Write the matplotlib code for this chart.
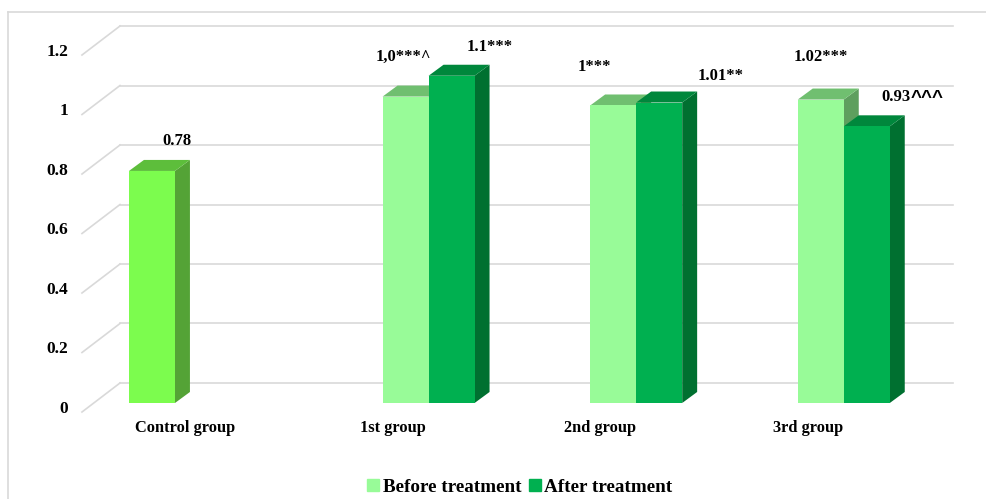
import matplotlib
matplotlib.use("Agg")
import matplotlib.pyplot as plt
from matplotlib.patches import Patch
from matplotlib.lines import Line2D
import numpy as np

# data
categories = ["Control group", "1st group", "2nd group", "3rd group"]
control = [0.78, None, None, None]
before = [None, 1.03, 1.0, 1.02]
after = [None, 1.1, 1.01, 0.93]
yticks = [0, 0.2, 0.4, 0.6, 0.8, 1.0, 1.2]
ytick_labels = ["0", "0.2", "0.4", "0.6", "0.8", "1", "1.2"]
control_labels = ["0.78", None, None, None]
before_labels = [None, "1,0***^", "1***", "1.02***"]
after_labels = [None, "1.1***", "1.01**", "0.93"]

# colours (front, top, side)
COL_CONTROL = ("#7CFC4E", "#5DBE3B", "#54A336")
COL_BEFORE = ("#98FB98", "#70BF70", "#5E9F5E")
COL_AFTER = ("#00B050", "#00873C", "#007030")
GRID = "#D9D9D9"
SERIF = "Liberation Serif"

W = 0.2216           # bar width (category units)
DX, DY = 0.072, 0.037  # bar depth offset
WALL_DX_BACK, WALL_DY_BACK = -0.3757, 0.0672
WALL_DX_FRONT, WALL_DY_FRONT = -0.5588, -0.0303
RIGHT_END = 3.637

fig = plt.figure(figsize=(9.87, 4.99), dpi=100)
ax = fig.add_axes([60 / 987, 69 / 499, 910 / 987, 415 / 499])
ax.set_xlim(-0.6647, 3.7187)
ax.set_ylim(-0.0908, 1.3042)
ax.axis("off")

# back wall gridlines + left wall slants
for t in yticks:
    ax.plot([WALL_DX_FRONT, WALL_DX_BACK], [t + WALL_DY_FRONT, t + WALL_DY_BACK],
            color=GRID, lw=1.2, zorder=1)
    ax.plot([WALL_DX_BACK, RIGHT_END], [t + WALL_DY_BACK, t + WALL_DY_BACK],
            color=GRID, lw=1.2, zorder=1)

for t, lab in zip(yticks, ytick_labels):
    ax.text(-0.626, t - 0.02, lab, ha="right", va="center", fontsize=12.5,
            fontweight="bold", family=SERIF)


def bar3d(x, v, cols, z):
    front, top, side = cols
    ax.bar([x], [v], width=W, color=front, edgecolor="none", zorder=z + 0.2)
    x0, x1 = x - W / 2, x + W / 2
    ax.fill([x0, x1, x1 + DX, x0 + DX], [v, v, v + DY, v + DY],
            color=top, lw=0, zorder=z + 0.1)
    ax.fill([x1, x1 + DX, x1 + DX, x1], [0, DY, v + DY, v],
            color=side, lw=0, zorder=z)


z = 2
for i in range(len(categories)):
    for off, vals, cols in [(-W, control, COL_CONTROL), (0, before, COL_BEFORE),
                            (W, after, COL_AFTER)]:
        if vals[i] is not None:
            bar3d(i + off, vals[i], cols, z)
            z += 1

# data labels (positions moved by hand in the original)
lab_kw = dict(fontsize=12, fontweight="bold", family=SERIF, ha="center",
              va="center", zorder=50)
ctrl_pos = [(0.12, 0.10), None, None, None]
before_pos = [None, (-0.012, 0.133), (-0.09, 0.129), (0.001, 0.143)]
after_pos = [None, (0.185, 0.097), (0.298, 0.089), (0.14, 0.099)]
for i in range(len(categories)):
    if control_labels[i]:
        dx, dy = ctrl_pos[i]
        ax.text(i - W + dx, control[i] + dy, control_labels[i], **lab_kw)
    if before_labels[i]:
        dx, dy = before_pos[i]
        ax.text(i + dx, before[i] + dy, before_labels[i], **lab_kw)
    if after_labels[i]:
        dx, dy = after_pos[i]
        ax.text(i + W + dx, after[i] + dy, after_labels[i], **lab_kw)

# the caret marks on the 3rd group label are drawn in a bigger sans face
ax.text(3 + W + 0.212, after[3] + 0.094, "^^^", fontsize=13.5,
        fontweight="bold", family="Liberation Sans", ha="left", va="center",
        zorder=50)

for i, c in enumerate(categories):
    ax.text(i - 0.063, -0.084, c, ha="center", va="center", fontsize=11.8,
            fontweight="bold", family=SERIF)

# chart border (top and left only visible)
fig.add_artist(Line2D([8 / 987, 1.0], [1 - 12 / 499, 1 - 12 / 499],
                      color="#D9D9D9", lw=1.2, transform=fig.transFigure))
fig.add_artist(Line2D([8 / 987, 8 / 987], [0, 1 - 12 / 499],
                      color="#D9D9D9", lw=1.2, transform=fig.transFigure))

handles = [Patch(color=COL_BEFORE[0], label="Before treatment"),
           Patch(color=COL_AFTER[0], label="After treatment")]
fig.legend(handles=handles, loc="center", bbox_to_anchor=(520 / 987, 12 / 499),
           ncol=2, frameon=False, handlelength=0.6, handleheight=0.6,
           handletextpad=0.2, columnspacing=0.4,
           prop=dict(family=SERIF, weight="bold", size=13.8))

fig.savefig("out.png", dpi=100)
